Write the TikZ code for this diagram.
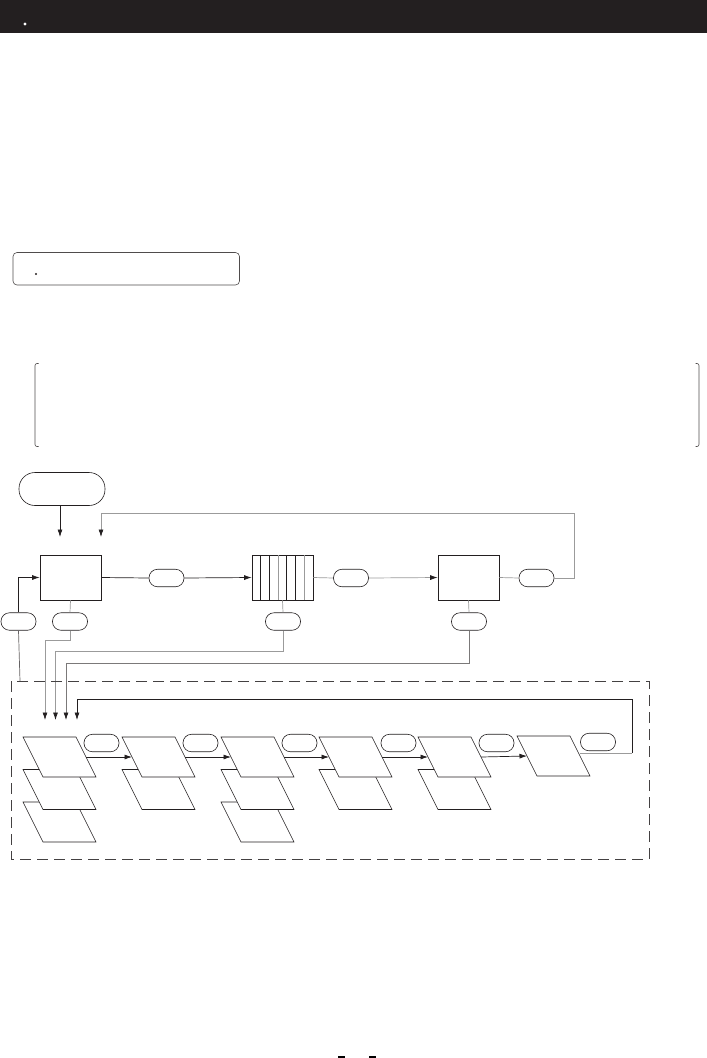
\documentclass[tikz,border=0pt]{standalone}
\usetikzlibrary{arrows.meta}
\definecolor{hdr}{RGB}{35,31,32}
\definecolor{lg}{RGB}{155,155,155}
\definecolor{dk}{RGB}{35,31,32}
\newcommand\plg[3]{%
  \draw[dk, fill=white, line width=0.6pt] (#2,#3) -- ++(53,0) -- ++(20,40) -- ++(-53,0) -- cycle;
  \coordinate (#1l) at ({#2+10},{#3+20});
  \coordinate (#1r) at ({#2+63},{#3+20});}
\begin{document}
\begin{tikzpicture}[x=1pt,y=-1pt, line width=0.7pt,
  boxn/.style={draw=dk, fill=white, minimum width=61pt, minimum height=45pt, inner sep=0pt},
  pill/.style={draw=dk, fill=white, rounded corners=8.5pt, minimum width=35pt, minimum height=17.5pt, inner sep=0pt, line width=0.6pt},
  arr/.style={-{Latex[length=7.5pt,width=5pt,color=dk]}},
  glin/.style={draw=lg},
  blin/.style={draw=dk}]
\useasboundingbox (0,0) rectangle (707,1058);
% header
\fill[hdr] (0,0) rectangle (707,33);
\fill[white] (25,22.3) -- (26.7,24) -- (25,25.7) -- (23.3,24) -- cycle;
% note box
\draw[dk!80, line width=0.6pt, rounded corners=4pt] (13,252.5) rectangle (239.5,285);
\fill[dk] (36,274) circle (1.1);
% brackets
\draw[dk!80, line width=0.6pt, rounded corners=2pt] (38.5,363.5) -- (35,363.5) -- (35,446.5) -- (38.5,446.5);
\draw[dk!80, line width=0.6pt, rounded corners=2pt] (695.5,363.5) -- (699,363.5) -- (699,446.5) -- (695.5,446.5);
% top row nodes
\node[draw=dk, fill=white, rounded corners=16pt, minimum width=86pt, minimum height=33pt, inner sep=0pt, line width=0.6pt] (start) at (62,489) {};
\node[boxn] (b1) at (70.5,577.5) {};
\node[boxn] (b2) at (282.5,577.5) {};
\node[boxn] (b3) at (468.5,577.5) {};
\foreach \k in {1,...,6}{
  \pgfmathsetmacro\xx{252+\k*60.5/7}
  \ifnum\k=3 \draw[lg] (\xx,555) -- (\xx,600); \else\ifnum\k=6 \draw[lg] (\xx,555) -- (\xx,600); \else \draw[dk] (\xx,555) -- (\xx,600);\fi\fi
}
\node[pill] (p2) at (166.5,578) {};
\node[pill] (p3) at (351,578) {};
\node[pill] (pR) at (536.5,578) {};
\node[pill] (pA) at (18.5,621.5) {};
\node[pill] (pB) at (70,621.5) {};
\node[pill] (pQ) at (283,621.5) {};
\node[pill] (p3b) at (469,621.5) {};
% coordinates
\coordinate (in1) at (60,537);
\coordinate (fbT) at (101,537);
\coordinate (fbC) at (574,513);
\coordinate (a1) at (45,720);
\coordinate (a2) at (55.5,720);
\coordinate (a3) at (66,720);
\coordinate (a4) at (77,720);
\coordinate (fr) at (632,699);
\coordinate (dtop) at (20,681);
% top connectors
\draw[blin, arr] (start.south -| in1) -- (in1);
\draw[glin, arr] (pR.east) -| (fbC) -| (fbT);
\draw[blin] (b1.east) -- (p2.west);
\draw[blin, arr] (p2.east) -- (b2.west);
\draw[glin] (b2.east) -- (p3.west);
\draw[glin, arr] (p3.east) -- (b3.west);
\draw[glin] (b3.east) -- (pR.west);
\draw[blin, arr] (pA.north) |- (b1.west);
\draw[draw=dk!70] (pA.south) -- (dtop);
\draw[glin] (b1.south) -- (pB.north);
\draw[glin] (b2.south) -- (pQ.north);
\draw[glin] (b3.south) -- (p3b.north);
\draw[glin, arr] (pB.south) -- ++(0,10) -| (a1);
\draw[glin, arr] (pQ.south) -- ++(0,21) -| (a2);
\draw[draw=dk!60, arr] (p3b.south) -- ++(0,33) -| (a3);
% dashed frame
\draw[dk!85, line width=0.6pt, dash pattern=on 11pt off 6pt] (11,681) rectangle (649,859);
% parallelogram stacks
\plg{s1c}{23}{802}\plg{s1b}{23}{769.5}\plg{s1a}{23}{737}
\plg{s2b}{122}{769.5}\plg{s2a}{122}{737}
\plg{s3c}{221}{802}\plg{s3b}{221}{769.5}\plg{s3a}{221}{737}
\plg{s4b}{319}{769.5}\plg{s4a}{319}{737}
\plg{s5b}{418}{769.5}\plg{s5a}{418}{737}
\plg{s6a}{517}{736}
% pills in frame
\node[pill] (q1) at (101.5,743) {};
\node[pill] (q2) at (200.5,743) {};
\node[pill] (q3) at (299.5,743) {};
\node[pill] (q4) at (398.5,743) {};
\node[pill] (q5) at (496.5,743) {};
\node[pill] (q6) at (598,742) {};
% arrows between stacks
\draw[blin, arr] (s1ar) -- (s2al);
\draw[blin, arr] (s2ar) -- (s3al);
\draw[blin, arr] (s3ar) -- (s4al);
\draw[blin, arr] (s4ar) -- (s5al);
\draw[blin, arr] (s5ar) -- (s6al);
% feedback inside frame
\draw[glin] (q6.south west) ++(0,2) -- ++(52,0);
\draw[blin, arr] (q6.south west) ++(52,2) |- (fr) -| (a4);
% bottom marks
\fill[black] (338,1055.5) rectangle (345,1058);
\fill[black] (369,1055.5) rectangle (376,1058);
\end{tikzpicture}
\end{document}
